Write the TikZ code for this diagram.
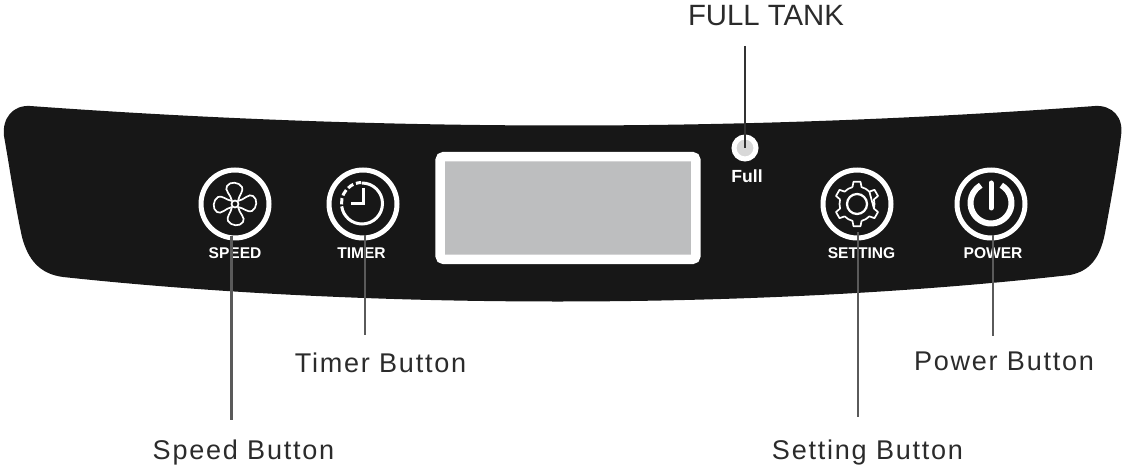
\documentclass[tikz,border=0pt]{standalone}
\usepackage{fontspec}
\setmainfont{Liberation Sans}
\usetikzlibrary{positioning, calc}

\definecolor{panelblack}{HTML}{171717}
\definecolor{leadgrey}{HTML}{5A5A5A}
\definecolor{screengrey}{HTML}{BDBEBF}
\definecolor{ledgrey}{HTML}{D8D8D8}
\definecolor{labelgrey}{HTML}{2B2B2B}

\tikzset{
  ring/.style = {circle, draw=white, line width=0.1cm, minimum size=1.36cm, inner sep=0pt},
  tag/.style = {text=white, font=\fontsize{8.85}{8.85}\selectfont\bfseries, inner sep=0pt},
  callout/.style = {text=labelgrey, font=\fontsize{15.4}{15.4}\selectfont\addfontfeature{LetterSpace=6.5}, inner sep=0pt},
  lead/.style = {draw=leadgrey, line width=0.045cm},
  thinicon/.style = {draw=white, line width=0.034cm},
}

\begin{document}
\begin{tikzpicture}[x=0.02cm, y=-0.02cm]

\useasboundingbox (0,0) rectangle (1125,472);

% panel
\fill[panelblack] (30,106) .. controls (390,132) and (740,132) .. (1095,106)
  .. controls (1112,105) and (1124,117) .. (1121,136)
  .. controls (1117,168) and (1111,200) .. (1105,233)
  .. controls (1100,258) and (1090,271) .. (1070,275)
  .. controls (760,310) and (370,310) .. (63,277)
  .. controls (40,274) and (28,260) .. (22,237)
  .. controls (15,205) and (10,170) .. (4,136)
  .. controls (2,118) and (13,105) .. (30,106) -- cycle;

% display
\node[draw=white, fill=screengrey, line width=0.19cm, rounded corners=0.08cm, minimum width=5.12cm, minimum height=2.06cm, inner sep=0pt] (screen) at (568,208) {};

% buttons
\node[ring] (speed) at (235,204) {};
\node[ring] (timer) at (363,204) {};
\node[ring] (setting) at (857,204) {};
\node[ring] (power) at (991,204) {};
\node[circle, fill=ledgrey, draw=white, line width=0.1cm, minimum size=0.44cm, inner sep=0pt] (full) at (745,148) {};

% fan icon
\foreach \a in {0, 90, 180, 270} {
  \draw[thinicon, shift={(speed.center)}, rotate=\a]
    (-3,-3) .. controls (-4,-9) and (-11,-14) .. (-8,-18)
    .. controls (-5,-23) and (4,-22) .. (7,-17)
    .. controls (9,-13) and (4,-9) .. (3,-3);
}
\draw[thinicon, fill=panelblack] (speed.center) circle (3.5);

% clock icon
\draw[draw=white, line width=0.06cm] ($(timer.center)+(-1,-21)$) arc (-90:172:20.5);
\draw[draw=white, line width=0.06cm, dash pattern=on 3.6pt off 1.6pt] ($(timer.center)+(-1,-1)+(176:20.5)$) arc (176:268:20.5);
\draw[draw=white, line width=0.06cm] ($(timer.center)+(0,-16)$) -- ($(timer.center)+(0,-0.5)$) -- ($(timer.center)+(-12,-0.5)$);

% gear icon
\draw[thinicon, line join=round, shift={(setting.center)}]
  \foreach \a in {30,90,...,330} {
    ({\a-15}:17.5) -- ({\a-9}:22.5) -- ({\a+9}:22.5) -- ({\a+15}:17.5) arc ({\a+15}:{\a+45}:17.5)
  } -- cycle;
\draw[thinicon, line width=0.045cm] (setting.center) circle (10);

% power icon
\draw[draw=white, line width=0.12cm] ($(power.center)+(0,-1)+(-60:20.5)$) arc (-60:240:20.5);
\draw[draw=white, line width=0.1cm, line cap=round] ($(power.center)+(0,-21)$) -- ($(power.center)+(0,4)$);

% panel tags
\node[tag] (speedtag) at (235,253) {SPEED};
\node[tag] (timertag) at (361.5,253) {TIMER};
\node[tag] (settingtag) at (861.5,253) {SETTING};
\node[tag] (powertag) at (993,253) {POWER};
\node[tag, font=\fontsize{10}{10}\selectfont\bfseries] (fulltag) at (747,176) {Full};

% callout labels
\node[callout, font=\fontsize{16.7}{16.7}\selectfont] (fulllabel) at (766,16) {FULL TANK};
\node[callout] (speedlabel) at (243.5,453) {Speed Button};
\node[callout] (timerlabel) at (380.5,363) {Timer Button};
\node[callout] (settinglabel) at (867.5,453) {Setting Button};
\node[callout] (powerlabel) at (1004,361) {Power Button};

% leader lines
\coordinate (speedend) at (231.5,420);
\coordinate (timerend) at (365,335);
\coordinate (settingend) at (858,417);
\coordinate (powerend) at (993,336);
\coordinate (fullend) at (745,46);
\draw[lead] ($(speed.south -| speedend)+(0,-4)$) -- (speedend);
\draw[lead] ($(timer.south -| timerend)+(0,-5)$) -- (timerend);
\draw[lead] ($(setting.south -| settingend)+(0,-8)$) -- (settingend);
\draw[lead] ($(power.south -| powerend)+(0,-5)$) -- (powerend);
\draw[lead, draw=black!80] (fullend) -- (full.center);

\end{tikzpicture}
\end{document}
